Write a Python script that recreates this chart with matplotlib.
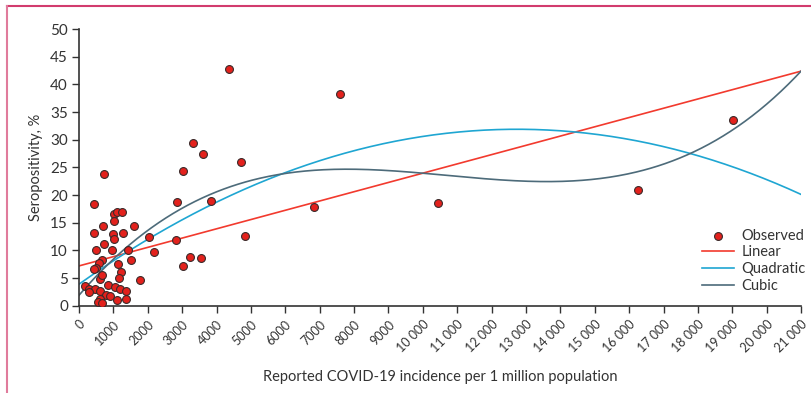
import numpy as np
import matplotlib
matplotlib.use("Agg")
import matplotlib.pyplot as plt
from matplotlib.lines import Line2D

plt.rcParams['font.family'] = ['Lato', 'DejaVu Sans']

# Observed points: reported incidence per 1 million, seropositivity %
incidence = [727, 3034, 3305, 3616, 4352, 4721, 7592, 3839, 6824, 4817,
             3237, 3549, 10451, 16249, 19023, 1783, 2045, 2170, 2859, 2821,
             3014,
             436, 1007, 1105, 1240, 1027, 707, 1589, 445, 978, 1289,
             1007, 716, 483, 969, 1420, 1521, 657, 590, 1143, 483,
             425, 1211, 1163, 619, 669, 183, 300, 454, 833, 1056,
             1181, 1356, 300, 620, 794, 910, 1367, 1105, 620, 553, 669]
seropos = [23.9, 24.3, 29.5, 27.5, 42.7, 26.0, 38.2, 18.9, 17.8, 12.6,
           8.8, 8.6, 18.6, 21.0, 33.6, 4.6, 12.4, 9.8, 18.8, 11.8,
           7.2,
           18.3, 16.6, 17.0, 17.0, 15.25, 14.4, 14.5, 13.1, 13.0, 13.1,
           12.1, 11.2, 10.1, 10.1, 10.0, 8.3, 8.3, 7.7, 7.6, 6.9,
           6.6, 6.1, 5.1, 4.9, 5.5, 3.6, 3.1, 3.1, 3.7, 3.3,
           3.1, 2.65, 2.5, 2.6, 1.9, 1.75, 1.2, 1.0, 1.2, 0.6, 0.5]

# Fitted model coefficients (x in thousands), highest power first
linear_coef = [1.676, 7.2]
quad_coef = [-0.1725, 4.395, 3.9]
cubic_coef = [0.0227, -0.7289, 7.2247, 1.9]

xticks = list(range(0, 21001, 1000))
xticklabels = [f"{v:,}".replace(",", " ") if v >= 10000 else str(v) for v in xticks]
yticks = list(range(0, 51, 5))

fig = plt.figure(figsize=(8.12, 3.93), dpi=100)
ax = fig.add_axes([0.0973, 0.222, 0.9865 - 0.0973, 0.926 - 0.222])

xs = np.linspace(0, 21000, 400)
ax.plot(xs, np.polyval(linear_coef, xs / 1000), color='#f23a2e', lw=1.2, label='Linear', zorder=2)
ax.plot(xs, np.polyval(quad_coef, xs / 1000), color='#1fa6d2', lw=1.2, label='Quadratic', zorder=2)
ax.plot(xs, np.polyval(cubic_coef, xs / 1000), color='#4d6b7a', lw=1.2, label='Cubic', zorder=2)
ax.scatter(incidence, seropos, s=32, facecolor='#e3211c', edgecolor='#3a2a2a', linewidth=0.8,
           label='Observed', zorder=3)

ax.set_xlim(0, 21000)
ax.set_ylim(0, 50)
ax.set_xticks(xticks)
ax.set_xticklabels(xticklabels, rotation=45, ha='right', rotation_mode='anchor', fontsize=9, color='#333333')
ax.set_yticks(yticks)
ax.tick_params(axis='y', labelsize=11, colors='#333333', length=5, width=1, pad=3)
ax.tick_params(axis='x', length=5, width=1, colors='#333333', pad=4)
for s in ['top', 'right']:
    ax.spines[s].set_visible(False)
for s in ['left', 'bottom']:
    ax.spines[s].set_color('#333333')
    ax.spines[s].set_linewidth(1.2)

ax.set_ylabel('Seropositivity, %', fontsize=10.5, color='#333333', labelpad=5)
ax.set_xlabel('Reported COVID-19 incidence per 1 million population', fontsize=10.5, color='#333333', labelpad=11)

handles, labels = ax.get_legend_handles_labels()
order = [3, 0, 1, 2]
leg = ax.legend([handles[i] for i in order], [labels[i] for i in order], loc='lower left',
                bbox_to_anchor=(0.863, 0.045), frameon=False, fontsize=10.5, handlelength=2.2,
                labelspacing=0.2, handletextpad=0.5, borderaxespad=0.0, borderpad=0.0)
for t in leg.get_texts():
    t.set_color('#333333')

fig.add_artist(Line2D([7 / 812, 1.0], [1 - 6 / 393, 1 - 6 / 393], color='#d23c6e', lw=1.5))
fig.add_artist(Line2D([7 / 812, 7 / 812], [0, 1 - 6 / 393], color='#e07b9c', lw=1.5))

fig.savefig('out.png', dpi=100)
